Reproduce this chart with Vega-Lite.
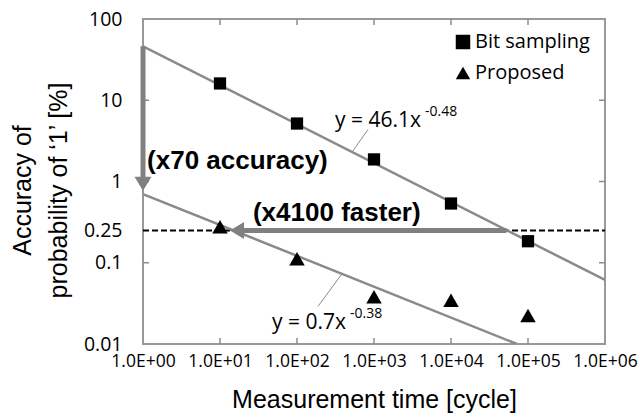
{
  "$schema": "https://vega.github.io/schema/vega-lite/v6.json",
  "autosize": {"type": "none"},
  "width": 462,
  "height": 325,
  "padding": {"left": 143, "top": 19, "right": 35, "bottom": 76},
  "background": "white",
  "config": {
    "view": {"stroke": "#999999", "strokeWidth": 2},
    "axis": {"domain": false, "grid": false, "ticks": false, "labelColor": "black", "titleColor": "black", "labelOverlap": false, "labelFlush": false}
  },
  "datasets": {
    "points": [
      {"time": 10, "acc": 16.1, "method": "Bit sampling"},
      {"time": 100, "acc": 5.17, "method": "Bit sampling"},
      {"time": 1000, "acc": 1.87, "method": "Bit sampling"},
      {"time": 10000, "acc": 0.536, "method": "Bit sampling"},
      {"time": 100000, "acc": 0.184, "method": "Bit sampling"},
      {"time": 10, "acc": 0.277, "method": "Proposed"},
      {"time": 100, "acc": 0.112, "method": "Proposed"},
      {"time": 1000, "acc": 0.0381, "method": "Proposed"},
      {"time": 10000, "acc": 0.0346, "method": "Proposed"},
      {"time": 100000, "acc": 0.0224, "method": "Proposed"}
    ],
    "fits": [
      {"fit": "bit", "time": 1, "acc": 46.1},
      {"fit": "bit", "time": 1000000, "acc": 0.0614},
      {"fit": "prop", "time": 1, "acc": 0.7},
      {"fit": "prop", "time": 71800, "acc": 0.01}
    ],
    "leaders": [
      {"id": "a", "time": 836, "acc": 4.37},
      {"id": "a", "time": 518, "acc": 2.29},
      {"id": "b", "time": 187, "acc": 0.029},
      {"id": "b", "time": 384, "acc": 0.073}
    ],
    "threshold": [
      {"time": 1, "acc": 0.25},
      {"time": 1000000, "acc": 0.25}
    ],
    "frameTicks": [
      {"side": "x", "time": 10, "acc": 0.01}, {"side": "x", "time": 100, "acc": 0.01}, {"side": "x", "time": 1000, "acc": 0.01},
      {"side": "x", "time": 10000, "acc": 0.01}, {"side": "x", "time": 100000, "acc": 0.01},
      {"side": "x", "time": 10, "acc": 100}, {"side": "x", "time": 100, "acc": 100}, {"side": "x", "time": 1000, "acc": 100},
      {"side": "x", "time": 10000, "acc": 100}, {"side": "x", "time": 100000, "acc": 100},
      {"side": "y", "time": 1, "acc": 0.1}, {"side": "y", "time": 1, "acc": 1}, {"side": "y", "time": 1, "acc": 10},
      {"side": "y", "time": 1000000, "acc": 0.1}, {"side": "y", "time": 1000000, "acc": 1}, {"side": "y", "time": 1000000, "acc": 10}
    ],
    "shafts": [
      {"id": "v", "time": 1, "acc": 46.1},
      {"id": "v", "time": 1, "acc": 1.0},
      {"id": "h", "time": 52500, "acc": 0.25},
      {"id": "h", "time": 20, "acc": 0.25}
    ],
    "heads": [
      {"dir": "down", "time": 1, "acc": 0.77},
      {"dir": "left", "time": 13.5, "acc": 0.25}
    ],
    "texts": [
      {"t": "(x70 accuracy)", "time": 1.13, "acc": 1.41, "kind": "bold"},
      {"t": "(x4100 faster)", "time": 26.8, "acc": 0.322, "kind": "bold"},
      {"t": "y = 46.1x", "time": 312, "acc": 4.62, "kind": "eq"},
      {"t": "-0.48", "time": 4596, "acc": 6.31, "kind": "sup"},
      {"t": "y = 0.7x", "time": 47.4, "acc": 0.0155, "kind": "eq"},
      {"t": "-0.38", "time": 488, "acc": 0.0206, "kind": "sup"}
    ]
  },
  "encoding": {
    "x": {"field": "time", "type": "quantitative", "scale": {"type": "log", "domain": [1, 1000000], "nice": false}, "axis": null},
    "y": {"field": "acc", "type": "quantitative", "scale": {"type": "log", "domain": [0.01, 100], "nice": false}, "axis": null}
  },
  "resolve": {"axis": {"x": "independent", "y": "independent"}},
  "layer": [
    {
      "data": {"name": "frameTicks"},
      "transform": [{"filter": "datum.side === 'x'"}],
      "mark": {"type": "tick", "orient": "vertical", "size": 12, "thickness": 1.5, "color": "#8c8c8c", "opacity": 1, "clip": true}
    },
    {
      "data": {"name": "frameTicks"},
      "transform": [{"filter": "datum.side === 'y'"}],
      "mark": {"type": "tick", "orient": "horizontal", "size": 12, "thickness": 1.5, "color": "#8c8c8c", "opacity": 1, "clip": true}
    },
    {
      "data": {"name": "threshold"},
      "mark": {"type": "line", "color": "black", "strokeWidth": 2, "strokeDash": [6, 3]}
    },
    {
      "data": {"name": "fits"},
      "mark": {"type": "line", "color": "#8a8a8a", "strokeWidth": 2.5, "clip": true},
      "encoding": {"detail": {"field": "fit"}}
    },
    {
      "data": {"name": "leaders"},
      "mark": {"type": "line", "color": "#8a8a8a", "strokeWidth": 1},
      "encoding": {"detail": {"field": "id"}}
    },
    {
      "data": {"name": "shafts"},
      "mark": {"type": "line", "color": "#808080", "strokeWidth": 5, "strokeCap": "butt"},
      "encoding": {"detail": {"field": "id"}}
    },
    {
      "data": {"name": "heads"},
      "transform": [{"filter": "datum.dir === 'down'"}],
      "mark": {"type": "point", "filled": true, "color": "#808080", "opacity": 1, "size": 289, "shape": "M0,0L-1,-1.65L1,-1.65Z"}
    },
    {
      "data": {"name": "heads"},
      "transform": [{"filter": "datum.dir === 'left'"}],
      "mark": {"type": "point", "filled": true, "color": "#808080", "opacity": 1, "size": 289, "shape": "M0,0L1.65,-1L1.65,1Z"}
    },
    {
      "data": {"name": "points"},
      "transform": [{"filter": "datum.method === 'Proposed'"}],
      "mark": {"type": "point", "filled": true, "color": "black", "opacity": 1, "size": 240},
      "encoding": {
        "shape": {"field": "method", "type": "nominal", "scale": {"domain": ["Bit sampling", "Proposed"], "range": ["square", "triangle-up"]}}
      }
    },
    {
      "data": {"name": "points"},
      "transform": [{"filter": "datum.method === 'Bit sampling'"}],
      "mark": {"type": "point", "filled": true, "color": "black", "opacity": 1, "size": 150},
      "encoding": {
        "x": {"field": "time", "type": "quantitative", "scale": {"type": "log", "domain": [1, 1000000], "nice": false},
          "axis": {"orient": "bottom", "values": [1, 10, 100, 1000, 10000, 100000, 1000000],
            "labelExpr": "'1.0E+' + format(round(log(datum.value) / LN10), '02d')",
            "labelFont": "Open Sans", "labelFontSize": 17.5, "labelPadding": 8,
            "title": "Measurement time [cycle]", "titleFont": "Liberation Sans", "titleFontSize": 25, "titleFontWeight": "normal", "titlePadding": 18}},
        "y": {"field": "acc", "type": "quantitative", "scale": {"type": "log", "domain": [0.01, 100], "nice": false},
          "axis": {"orient": "left", "values": [0.01, 0.1, 0.25, 1, 10, 100],
            "labelExpr": "format(datum.value, '~g')",
            "labelFont": "Open Sans", "labelFontSize": 19.5, "labelPadding": 21, "labelBaseline": "middle",
            "title": ["Accuracy of", "probability of \u20181\u2019 [%]"], "titleFont": "Liberation Sans", "titleFontSize": 25, "titleFontWeight": "normal", "titlePadding": 12, "titleLineHeight": 36, "titleY": 171}},
        "shape": {"field": "method", "type": "nominal", "scale": {"domain": ["Bit sampling", "Proposed"], "range": ["square", "triangle-up"]},
          "legend": {"orient": "none", "legendX": 310, "legendY": 13, "title": null, "padding": 0,
            "labelFont": "Open Sans", "labelFontSize": 20, "labelColor": "black", "labelOffset": 2,
            "symbolSize": 210, "symbolFillColor": "black", "symbolStrokeColor": "black", "symbolStrokeWidth": 0, "rowPadding": 11}}
      }
    },
    {
      "data": {"name": "texts"},
      "transform": [{"filter": "datum.kind === 'bold'"}],
      "mark": {"type": "text", "align": "left", "baseline": "alphabetic", "font": "Liberation Sans", "fontWeight": "bold", "fontSize": 26, "color": "black"},
      "encoding": {"text": {"field": "t"}}
    },
    {
      "data": {"name": "texts"},
      "transform": [{"filter": "datum.kind === 'eq'"}],
      "mark": {"type": "text", "align": "left", "baseline": "alphabetic", "font": "Open Sans", "fontSize": 21, "color": "black"},
      "encoding": {"text": {"field": "t"}}
    },
    {
      "data": {"name": "texts"},
      "transform": [{"filter": "datum.kind === 'sup'"}],
      "mark": {"type": "text", "align": "left", "baseline": "alphabetic", "font": "Open Sans", "fontSize": 14, "color": "black"},
      "encoding": {"text": {"field": "t"}}
    }
  ]
}
